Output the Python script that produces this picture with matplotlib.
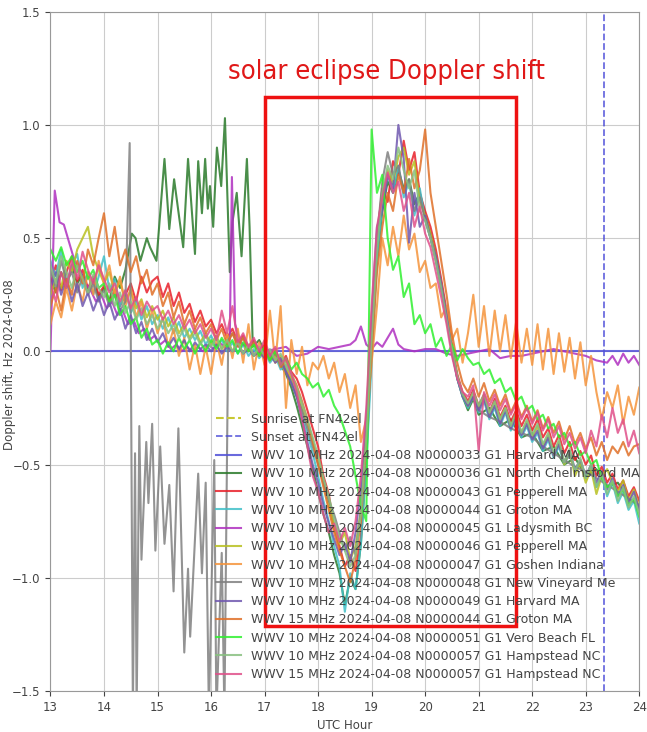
import numpy as np
import matplotlib
matplotlib.use('Agg')
import matplotlib.pyplot as plt
from matplotlib.patches import Rectangle

# ---------------- data ----------------
# common time grid for most receivers, UTC hours 13.0 .. 24.0 every 0.1 h
hours = np.round(np.arange(13.0, 24.01, 0.1), 1)

sunrise_hr = 10.25
sunset_hr = 23.35

# N0000033 Harvard MA: flat zero line
t_n33 = [13.0, 24.0]
f_n33 = [0.0, 0.0]

# N0000043 Pepperell MA
f_n43 = [0.30, 0.38, 0.27, 0.35, 0.42, 0.31, 0.36, 0.28, 0.33, 0.25,
         0.29, 0.22, 0.27, 0.20, 0.25, 0.30, 0.22, 0.33, 0.26, 0.31,
         0.33, 0.24, 0.30, 0.20, 0.26, 0.17, 0.21, 0.13, 0.18, 0.11,
         0.14, 0.08, 0.12, 0.06, 0.10, 0.04, 0.07, 0.02, 0.05, 0.00,
         0.03, -0.02, 0.01, -0.05, -0.02, -0.09, -0.12, -0.18, -0.26, -0.34,
         -0.42, -0.55, -0.63, -0.78, -0.86, -0.95, -0.90, -0.97, -0.82, -0.45,
         0.05, 0.50, 0.72, 0.66, 0.84, 0.78, 0.93, 0.80, 0.88, 0.70,
         0.62, 0.55, 0.45, 0.32, 0.18, 0.03, -0.10, -0.18, -0.22, -0.17,
         -0.24, -0.19, -0.27, -0.21, -0.29, -0.24, -0.31, -0.26, -0.33, -0.28,
         -0.35, -0.30, -0.38, -0.34, -0.42, -0.37, -0.45, -0.40, -0.48, -0.44,
         -0.50, -0.46, -0.55, -0.51, -0.58, -0.54, -0.61, -0.57, -0.64, -0.60,
         -0.66]

# N0000044 Groton MA (10 MHz)
f_n44 = [0.40, 0.33, 0.45, 0.30, 0.38, 0.43, 0.28, 0.35, 0.25, 0.33,
         0.42, 0.27, 0.32, 0.20, 0.27, 0.17, 0.22, 0.14, 0.20, 0.12,
         0.16, 0.10, 0.15, 0.08, 0.13, 0.06, 0.10, 0.05, 0.09, 0.03,
         0.07, 0.02, 0.05, 0.00, 0.04, -0.01, 0.03, -0.02, 0.01, -0.03,
         0.00, -0.05, -0.02, -0.08, -0.06, -0.13, -0.20, -0.28, -0.36, -0.45,
         -0.55, -0.66, -0.75, -0.86, -0.95, -1.15, -0.98, -1.05, -0.85, -0.50,
         -0.05, 0.40, 0.65, 0.78, 0.70, 0.82, 0.68, 0.75, 0.60, 0.72,
         0.58, 0.50, 0.40, 0.28, 0.15, 0.00, -0.12, -0.20, -0.25, -0.20,
         -0.27, -0.22, -0.30, -0.25, -0.33, -0.27, -0.35, -0.30, -0.38, -0.33,
         -0.40, -0.36, -0.44, -0.39, -0.47, -0.42, -0.50, -0.45, -0.53, -0.49,
         -0.56, -0.51, -0.60, -0.55, -0.64, -0.58, -0.67, -0.62, -0.70, -0.66,
         -0.76]

# N0000046 Pepperell MA
f_n46 = [0.25, 0.32, 0.28, 0.40, 0.35, 0.45, 0.50, 0.55, 0.42, 0.36,
         0.30, 0.35, 0.26, 0.31, 0.22, 0.27, 0.19, 0.23, 0.15, 0.20,
         0.14, 0.18, 0.11, 0.15, 0.08, 0.12, 0.06, 0.10, 0.04, 0.08,
         0.03, 0.07, 0.01, 0.05, 0.00, 0.04, -0.01, 0.02, -0.02, 0.01,
         -0.03, 0.00, -0.05, -0.02, -0.08, -0.12, -0.17, -0.25, -0.32, -0.40,
         -0.48, -0.58, -0.68, -0.77, -0.85, -0.80, -0.92, -0.86, -0.70, -0.35,
         0.10, 0.52, 0.68, 0.80, 0.74, 0.86, 0.90, 0.78, 0.84, 0.66,
         0.60, 0.52, 0.42, 0.30, 0.16, 0.02, -0.11, -0.19, -0.24, -0.19,
         -0.25, -0.20, -0.28, -0.23, -0.30, -0.25, -0.33, -0.28, -0.36, -0.31,
         -0.38, -0.33, -0.42, -0.37, -0.46, -0.40, -0.50, -0.44, -0.55, -0.49,
         -0.58, -0.52, -0.63, -0.55, -0.52, -0.58, -0.62, -0.57, -0.66, -0.61,
         -0.69]

# N0000047 Goshen Indiana
f_n47 = [0.12, 0.22, 0.15, 0.28, 0.18, 0.30, 0.22, 0.35, 0.25, 0.40,
         0.30, 0.38, 0.25, 0.33, 0.20, 0.28, 0.15, 0.22, 0.10, 0.18,
         0.08, 0.15, 0.02, 0.10, -0.02, 0.06, -0.08, 0.03, -0.10, 0.02,
         -0.10, 0.05, -0.06, 0.08, -0.03, 0.10, -0.05, 0.12, -0.08, 0.04,
         -0.06, 0.18, -0.05, 0.20, -0.25, 0.05, -0.10, 0.02, -0.15, -0.05,
         -0.08, -0.02, -0.12, -0.05, -0.18, -0.10, -0.25, -0.15, -0.40, -0.30,
         -0.05, 0.20, 0.50, 0.38, 0.55, 0.42, 0.60, 0.45, 0.52, 0.35,
         0.40, 0.28, 0.30, 0.15, 0.20, 0.05, 0.10, -0.05, 0.08, 0.25,
         0.02, 0.20, -0.02, 0.18, 0.00, 0.16, -0.03, 0.13, -0.05, 0.10,
         -0.06, 0.12, -0.08, 0.10, -0.10, 0.08, -0.09, 0.06, -0.12, 0.04,
         -0.15, -0.02, -0.18, -0.30, -0.18, -0.25, -0.15, -0.32, -0.20, -0.28,
         -0.16]

# N0000049 Harvard MA
f_n49 = [0.28, 0.35, 0.25, 0.32, 0.22, 0.30, 0.20, 0.26, 0.18, 0.24,
         0.16, 0.22, 0.14, 0.19, 0.10, 0.16, 0.08, 0.13, 0.05, 0.10,
         0.04, 0.08, 0.02, 0.06, 0.01, 0.05, 0.00, 0.04, 0.01, 0.03,
         0.00, 0.03, -0.01, 0.02, 0.00, 0.03, -0.01, 0.01, -0.02, 0.00,
         -0.03, -0.01, -0.05, -0.03, -0.09, -0.14, -0.20, -0.30, -0.40, -0.50,
         -0.58, -0.68, -0.76, -0.83, -0.90, -0.85, -0.93, -0.80, -0.60, -0.30,
         0.15, 0.55, 0.62, 0.78, 0.72, 1.00, 0.85, 0.48, 0.70, 0.55,
         0.60, 0.50, 0.42, 0.30, 0.16, 0.00, -0.12, -0.20, -0.24, -0.20,
         -0.26, -0.21, -0.29, -0.24, -0.32, -0.26, -0.34, -0.29, -0.37, -0.32,
         -0.39, -0.35, -0.43, -0.38, -0.46, -0.41, -0.49, -0.44, -0.52, -0.48,
         -0.55, -0.50, -0.58, -0.53, -0.61, -0.56, -0.64, -0.59, -0.67, -0.62,
         -0.70]

# 15 MHz N0000044 Groton MA
f_15_n44 = [0.20, 0.28, 0.18, 0.32, 0.25, 0.40, 0.30, 0.45, 0.38, 0.50,
            0.61, 0.42, 0.55, 0.38, 0.45, 0.35, 0.42, 0.30, 0.36, 0.25,
            0.30, 0.20, 0.26, 0.15, 0.22, 0.12, 0.18, 0.10, 0.15, 0.08,
            0.12, 0.05, 0.10, 0.03, 0.08, 0.02, 0.06, 0.00, 0.04, -0.02,
            0.02, -0.04, 0.00, -0.07, -0.04, -0.10, -0.15, -0.22, -0.30, -0.40,
            -0.50, -0.60, -0.70, -0.80, -0.88, -0.95, -1.02, -0.92, -0.75, -0.40,
            0.00, 0.35, 0.55, 0.70, 0.62, 0.78, 0.70, 0.85, 0.72, 0.80,
            0.98, 0.70, 0.55, 0.40, 0.25, 0.08, -0.05, -0.14, -0.18, -0.12,
            -0.20, -0.14, -0.22, -0.17, -0.24, -0.19, -0.27, -0.22, -0.29, -0.24,
            -0.31, -0.26, -0.34, -0.29, -0.36, -0.31, -0.39, -0.33, -0.41, -0.36,
            -0.43, -0.38, -0.46, -0.40, -0.48, -0.42, -0.45, -0.40, -0.46, -0.42,
            -0.41]

# N0000051 Vero Beach FL
f_n51 = [0.45, 0.40, 0.46, 0.38, 0.42, 0.35, 0.40, 0.32, 0.36, 0.28,
         0.30, 0.22, 0.25, 0.16, 0.20, 0.12, 0.15, 0.06, 0.10, 0.03,
         0.05, -0.01, 0.04, 0.00, 0.06, 0.01, 0.05, -0.01, 0.04, 0.00,
         0.05, 0.01, 0.06, 0.02, 0.05, -0.01, 0.04, 0.00, 0.03, -0.02,
         0.02, -0.04, 0.00, -0.06, -0.03, -0.08, -0.05, -0.10, -0.12, -0.16,
         -0.14, -0.20, -0.17, -0.24, -0.28, -0.35, -0.42, -0.55, -0.68, -0.75,
         0.98, 0.70, 0.78, 0.50, 0.36, 0.42, 0.24, 0.30, 0.12, 0.16,
         0.08, 0.12, 0.02, 0.06, -0.02, 0.03, -0.04, 0.01, -0.03, -0.06,
         -0.05, -0.10, -0.08, -0.14, -0.12, -0.18, -0.16, -0.22, -0.20, -0.26,
         -0.24, -0.30, -0.28, -0.34, -0.32, -0.38, -0.36, -0.42, -0.40, -0.46,
         -0.44, -0.50, -0.48, -0.56, -0.60, -0.58, -0.64, -0.61, -0.68, -0.65,
         -0.73]

# N0000057 Hampstead NC (10 MHz)
f_n57 = [0.38, 0.30, 0.42, 0.35, 0.28, 0.38, 0.32, 0.26, 0.34, 0.28,
         0.24, 0.30, 0.20, 0.26, 0.17, 0.22, 0.14, 0.19, 0.12, 0.16,
         0.10, 0.14, 0.08, 0.12, 0.06, 0.10, 0.05, 0.08, 0.03, 0.07,
         0.02, 0.06, 0.01, 0.05, 0.00, 0.04, -0.01, 0.03, -0.02, 0.02,
         -0.02, 0.01, -0.04, -0.01, -0.06, -0.10, -0.16, -0.23, -0.30, -0.38,
         -0.46, -0.56, -0.64, -0.74, -0.82, -0.88, -0.95, -0.90, -0.72, -0.38,
         0.05, 0.45, 0.70, 0.82, 0.76, 0.90, 0.80, 0.72, 0.80, 0.62,
         0.58, 0.50, 0.40, 0.28, 0.14, 0.01, -0.11, -0.19, -0.23, -0.18,
         -0.24, -0.19, -0.27, -0.22, -0.30, -0.25, -0.33, -0.27, -0.36, -0.30,
         -0.37, -0.32, -0.41, -0.36, -0.45, -0.39, -0.49, -0.43, -0.53, -0.47,
         -0.56, -0.50, -0.60, -0.54, -0.63, -0.57, -0.66, -0.60, -0.69, -0.64,
         -0.72]

# 15 MHz N0000057 Hampstead NC
f_15_n57 = [0.30, 0.22, 0.35, 0.28, 0.40, 0.32, 0.44, 0.36, 0.30, 0.38,
            0.32, 0.26, 0.30, 0.22, 0.27, 0.19, 0.24, 0.16, 0.22, 0.18,
            0.20, 0.14, 0.18, 0.12, 0.16, 0.10, 0.14, 0.08, 0.12, 0.06,
            0.10, 0.05, 0.18, 0.08, 0.20, 0.04, 0.08, 0.02, 0.06, 0.00,
            0.05, -0.02, 0.02, -0.06, -0.03, -0.10, -0.18, -0.30, -0.42, -0.55,
            -0.62, -0.72, -0.80, -0.76, -0.84, -0.78, -0.86, -0.75, -0.55, -0.25,
            0.20, 0.55, 0.68, 0.79, 0.70, 0.75, 0.62, 0.70, 0.55, 0.64,
            0.52, 0.46, 0.35, 0.24, 0.12, -0.02, -0.12, -0.18, -0.20, -0.15,
            -0.44, -0.18, -0.24, -0.19, -0.26, -0.21, -0.28, -0.23, -0.30, -0.25,
            -0.32, -0.27, -0.35, -0.30, -0.38, -0.33, -0.41, -0.36, -0.43, -0.38,
            -0.45, -0.35, -0.42, -0.28, -0.38, -0.25, -0.36, -0.30, -0.42, -0.35,
            -0.45]

# N0000036 North Chelmsford MA (irregular sampling around the 15-17 h burst)
t_n36 = [13.0, 13.1, 13.2, 13.3, 13.4, 13.5, 13.6, 13.7, 13.8, 13.9,
         14.0, 14.1, 14.2, 14.3, 14.4,
         14.52, 14.59, 14.68, 14.8, 14.86, 14.98, 15.13, 15.22, 15.31, 15.4,
         15.48, 15.57, 15.7, 15.76, 15.83, 15.89, 15.94, 15.98, 16.04, 16.11,
         16.19, 16.26, 16.35, 16.4, 16.48, 16.57, 16.67, 16.72, 16.78,
         16.9, 17.0, 17.1, 17.2, 17.3, 17.4, 17.5, 17.6, 17.7, 17.8, 17.9,
         18.0, 18.1, 18.2, 18.3, 18.4, 18.5, 18.6, 18.7, 18.8, 18.9,
         19.0, 19.1, 19.2, 19.3, 19.4, 19.5, 19.6, 19.7, 19.8, 19.9,
         20.0, 20.1, 20.2, 20.3, 20.4, 20.5, 20.6, 20.7, 20.8, 20.9,
         21.0, 21.2, 21.4, 21.6, 21.8, 22.0, 22.2, 22.4, 22.6, 22.8,
         23.0, 23.2, 23.4, 23.6, 23.8, 24.0]
f_n36 = [0.32, 0.26, 0.35, 0.28, 0.38, 0.30, 0.34, 0.27, 0.31, 0.24,
         0.28, 0.22, 0.33, 0.28, 0.36,
         0.52, 0.50, 0.40, 0.50, 0.46, 0.40, 0.85, 0.54, 0.76, 0.60,
         0.46, 0.85, 0.43, 0.84, 0.61, 0.85, 0.63, 0.73, 0.55, 0.90,
         0.73, 1.03, 0.35, 0.57, 0.70, 0.42, 0.85, 0.55, 0.02,
         0.05, 0.00, -0.04, -0.01, -0.06, -0.10, -0.16, -0.24, -0.33, -0.42, -0.52,
         -0.62, -0.72, -0.80, -0.90, -0.98, -1.12, -1.00, -1.05, -0.85, -0.48,
         0.02, 0.40, 0.62, 0.75, 0.70, 0.80, 0.72, 0.76, 0.65, 0.70,
         0.60, 0.52, 0.42, 0.30, 0.16, 0.02, -0.12, -0.20, -0.26, -0.21,
         -0.28, -0.25, -0.33, -0.30, -0.38, -0.36, -0.44, -0.42, -0.50, -0.47,
         -0.55, -0.52, -0.60, -0.58, -0.65, -0.68]

# N0000048 New Vineyard ME (strong oscillation 14.5-16.3 h)
t_n48 = [13.0, 13.1, 13.2, 13.3, 13.4, 13.5, 13.6, 13.7, 13.8, 13.9,
         14.0, 14.1, 14.2, 14.3, 14.4,
         14.48, 14.54, 14.58, 14.61, 14.66, 14.70, 14.79, 14.83, 14.90, 14.96,
         15.05, 15.13, 15.22, 15.30, 15.39, 15.50, 15.57, 15.61, 15.76, 15.83,
         15.90, 15.96, 16.06, 16.10, 16.20, 16.25, 16.32,
         16.4, 16.5, 16.6, 16.7, 16.8, 16.9,
         17.0, 17.1, 17.2, 17.3, 17.4, 17.5, 17.6, 17.7, 17.8, 17.9,
         18.0, 18.1, 18.2, 18.3, 18.4, 18.5, 18.6, 18.7, 18.8, 18.9,
         19.0, 19.1, 19.2, 19.3, 19.4, 19.5, 19.6, 19.7, 19.8, 19.9,
         20.0, 20.1, 20.2, 20.3, 20.4, 20.5, 20.6, 20.7, 20.8, 20.9,
         21.0, 21.2, 21.4, 21.6, 21.8, 22.0, 22.2, 22.4, 22.6, 22.8,
         23.0, 23.2, 23.4, 23.6, 23.8, 24.0]
f_n48 = [0.36, 0.28, 0.40, 0.31, 0.35, 0.26, 0.33, 0.25, 0.30, 0.22,
         0.27, 0.20, 0.25, 0.18, 0.22,
         0.92, -1.6, -0.45, -1.6, -0.33, -0.92, -0.40, -0.67, -0.32, -0.88,
         -0.42, -0.85, -0.59, -1.06, -0.34, -1.33, -0.96, -1.26, -0.54, -0.98,
         -0.58, -1.6, -0.48, -1.6, -0.89, -1.6, 0.05,
         0.08, 0.03, 0.06, 0.01, 0.04, -0.01,
         0.02, -0.03, -0.01, -0.05, -0.09, -0.14, -0.20, -0.26, -0.34, -0.42,
         -0.50, -0.58, -0.66, -0.72, -0.80, -0.88, -0.82, -0.90, -0.70, -0.35,
         0.10, 0.50, 0.75, 0.88, 0.78, 0.82, 0.70, 0.76, 0.62, 0.68,
         0.58, 0.50, 0.40, 0.28, 0.15, 0.01, -0.11, -0.19, -0.24, -0.20,
         -0.26, -0.29, -0.31, -0.34, -0.36, -0.38, -0.42, -0.45, -0.48, -0.51,
         -0.53, -0.56, -0.59, -0.62, -0.65, -0.68]

# N0000045 Ladysmith BC (stays near zero after the morning)
t_n45 = [13.0, 13.08, 13.17, 13.25, 13.35, 13.45, 13.55, 13.65, 13.75, 13.85,
         13.95, 14.05, 14.15, 14.25, 14.35, 14.45, 14.55, 14.65, 14.75, 14.85,
         14.95, 15.05, 15.15, 15.25, 15.35, 15.45, 15.55, 15.65, 15.75, 15.85,
         15.95, 16.05, 16.15, 16.25, 16.35, 16.39, 16.45, 16.55, 16.65,
         16.8, 17.0, 17.2, 17.4, 17.6, 17.8, 18.0, 18.2, 18.4, 18.6,
         18.7, 18.8, 18.9, 19.0, 19.1, 19.2, 19.3, 19.4, 19.5, 19.6,
         19.8, 20.0, 20.2, 20.4, 20.6, 20.8, 21.0, 21.2, 21.4, 21.6,
         21.8, 22.0, 22.2, 22.4, 22.6, 22.8, 23.0, 23.2, 23.4, 23.5,
         23.6, 23.7, 23.8, 23.9, 24.0]
f_n45 = [0.00, 0.71, 0.57, 0.56, 0.48, 0.40, 0.36, 0.30, 0.27, 0.22,
         0.25, 0.19, 0.22, 0.16, 0.18, 0.12, 0.14, 0.08, 0.10, 0.05,
         0.07, 0.03, 0.05, 0.01, 0.03, 0.00, 0.02, 0.00, 0.02, 0.00,
         0.03, 0.01, 0.04, 0.02, 0.05, 0.77, 0.12, 0.04, 0.02,
         -0.01, 0.00, 0.01, 0.02, -0.02, -0.01, 0.02, 0.01, 0.02, 0.03,
         0.05, 0.11, 0.03, 0.01, 0.04, 0.02, 0.06, 0.10, 0.03, 0.01,
         0.00, 0.01, 0.01, -0.01, -0.02, -0.01, 0.00, 0.01, -0.03, -0.02,
         -0.02, -0.01, 0.00, 0.01, 0.00, -0.01, -0.02, -0.04, -0.05, -0.02,
         -0.06, -0.01, -0.05, -0.02, -0.06]

series = [
    (t_n33, f_n33, '#5050d8', 'WWV 10 MHz 2024-04-08 N0000033 G1 Harvard MA'),
    (t_n36, f_n36, '#2a7a2a', 'WWV 10 MHz 2024-04-08 N0000036 G1 North Chelmsford MA'),
    (hours, f_n43, '#e8202a', 'WWV 10 MHz 2024-04-08 N0000043 G1 Pepperell MA'),
    (hours, f_n44, '#40c0c8', 'WWV 10 MHz 2024-04-08 N0000044 G1 Groton MA'),
    (t_n45, f_n45, '#b030c0', 'WWV 10 MHz 2024-04-08 N0000045 G1 Ladysmith BC'),
    (hours, f_n46, '#b8c020', 'WWV 10 MHz 2024-04-08 N0000046 G1 Pepperell MA'),
    (hours, f_n47, '#f5943c', 'WWV 10 MHz 2024-04-08 N0000047 G1 Goshen Indiana'),
    (t_n48, f_n48, '#808080', 'WWV 10 MHz 2024-04-08 N0000048 G1 New Vineyard Me'),
    (hours, f_n49, '#7058b0', 'WWV 10 MHz 2024-04-08 N0000049 G1 Harvard MA'),
    (hours, f_15_n44, '#e07028', 'WWV 15 MHz 2024-04-08 N0000044 G1 Groton MA'),
    (hours, f_n51, '#30f030', 'WWV 10 MHz 2024-04-08 N0000051 G1 Vero Beach FL'),
    (hours, f_n57, '#88c080', 'WWV 10 MHz 2024-04-08 N0000057 G1 Hampstead NC'),
    (hours, f_15_n57, '#e0508a', 'WWV 15 MHz 2024-04-08 N0000057 G1 Hampstead NC'),
]

# ---------------- plot ----------------
fig = plt.figure(figsize=(6.47, 7.32), dpi=100)
ax = fig.add_axes([0.078, 0.056, 0.910, 0.928])

txtcol = '#444444'
ax.axvline(sunrise_hr, color='#c8c832', ls='--', lw=1.5, label='Sunrise at FN42el')
ax.axvline(sunset_hr, color='#4848d8', ls='--', lw=1.3, alpha=0.8, label='Sunset at FN42el')

for t, f, c, lab in series:
    ax.plot(t, f, color=c, lw=1.5, alpha=0.85, label=lab)

# highlight box + annotation (condensed face, like the original note)
ax.add_patch(Rectangle((17.0, -1.215), 4.7, 2.34, fill=False, ec='#ee1111', lw=2.5, zorder=5))
ax.text(19.28, 1.235, 'solar eclipse Doppler shift', color='#e01818', fontsize=19.5,
        ha='center', va='center', family='DejaVu Sans', fontstretch='condensed')

ax.set_xlim(13, 24)
ax.set_ylim(-1.5, 1.5)
ax.set_xticks(range(13, 25))
ax.set_yticks([-1.5, -1.0, -0.5, 0.0, 0.5, 1.0, 1.5])
ax.grid(True, color='#cccccc', lw=0.8)
ax.tick_params(labelsize=8.5, colors=txtcol)
for s in ax.spines.values():
    s.set_color('#999999')
ax.set_xlabel('UTC Hour', fontsize=8.5, color=txtcol)
ax.set_ylabel('Doppler shift, Hz 2024-04-08', fontsize=8.5, color=txtcol)
ax.yaxis.set_label_coords(-0.058, 0.48)

leg = ax.legend(loc='lower left', bbox_to_anchor=(0.262, -0.002), fontsize=9,
                frameon=False, handlelength=2.0, labelspacing=0.42)
for t in leg.get_texts():
    t.set_color(txtcol)

fig.savefig('out.png', dpi=100)
